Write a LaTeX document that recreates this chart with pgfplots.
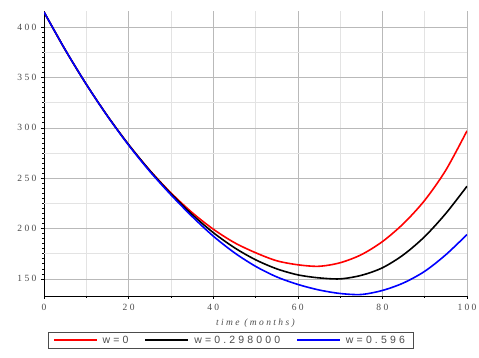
\documentclass[border=0pt]{standalone}
\usepackage{fontspec}
\setmainfont{Liberation Serif}
\newfontfamily\legfont[LetterSpace=30]{Liberation Sans}
\newfontfamily\tickfont[LetterSpace=25]{Liberation Serif}
\usepackage{pgfplots}
\usepackage{pgfplotstable}
\pgfplotsset{compat=1.18}

\pgfplotstableread{
t v
0 415
5 377.6
10 343.2
15 311.8
20 283.3
25 257.8
30 235.4
35 215.9
40 199.4
45 186
50 176
55 168
60 164
65 162.5
70 166
75 174
80 187
85 205
90 228
95 258
100 297
}\redtab

\pgfplotstableread{
t v
0 415
5 377.6
10 343.2
15 311.8
20 283.3
25 257.6
30 234.6
35 214
40 196
45 181
50 169
55 160
60 154
65 151
70 150
75 153.5
80 161
85 174
90 192
95 215
100 242
}\blacktab

\pgfplotstableread{
t v
0 415
5 377.6
10 343.2
15 311.6
20 282.8
25 256.8
30 233.5
35 212
40 192.5
45 176
50 162.5
55 152
60 144.5
65 139
70 135.5
75 134.5
80 138.5
85 146
90 157.5
95 174
100 194
}\bluetab

\definecolor{txtgray}{gray}{0.3}

\begin{document}
\begin{tikzpicture}
\path[use as bounding box] (-44pt,-62pt) rectangle (435pt,296pt);
\begin{axis}[
  at={(0,0)}, anchor=south west,
  scale only axis, width=423pt, height=285pt,
  xmin=0, xmax=100, ymin=133, ymax=416,
  axis lines=left, axis line style={-, black, line width=0.9pt},
  xtick={0,20,...,100}, ytick={150,200,...,400},
  minor x tick num=1, minor y tick num=9,
  tick align=outside, major tick length=3pt, minor tick length=1.8pt,
  tick style={black, line width=0.6pt},
  xmajorgrids=true, xminorgrids=true, ymajorgrids=true,
  major grid style={gray!55, line width=0.6pt},
  minor grid style={gray!22, line width=0.5pt},
  extra y ticks={175,225,275,325,375}, extra y tick labels={},
  extra y tick style={grid=major, major grid style={gray!22, line width=0.5pt}, tick style={draw=none}},
  /pgf/number format/assume math mode=true,
  ticklabel style={font=\tickfont\fontsize{9.5}{11}\selectfont, text=txtgray},
  yticklabel style={xshift=-1pt},
  xticklabel style={yshift=-2pt},
  xlabel={\itshape time (months)},
  xlabel style={font=\tickfont\fontsize{9.5}{11}\selectfont\itshape, text=txtgray, yshift=-1pt},
  legend columns=3,
  legend style={at={(0.443,-0.126)}, anchor=north, draw=txtgray, line width=0.8pt,
    font=\legfont\fontsize{10.5}{12}\selectfont, text=txtgray,
    /tikz/every even column/.append style={column sep=11pt},
    nodes={inner xsep=5pt},
    inner xsep=4pt, inner ysep=1.5pt},
  legend image code/.code={\draw[#1, line width=1.8pt] (0pt,0pt) -- (43pt,0pt);},
]
\addplot[red, line width=1.6pt, smooth] table[x=t,y=v] {\redtab};
\addlegendentry{w=0}
\addplot[black, line width=1.6pt, smooth] table[x=t,y=v] {\blacktab};
\addlegendentry{w=0.298000}
\addplot[blue, line width=1.6pt, smooth] table[x=t,y=v] {\bluetab};
\addlegendentry{w=0.596}
\end{axis}
\end{tikzpicture}
\end{document}
